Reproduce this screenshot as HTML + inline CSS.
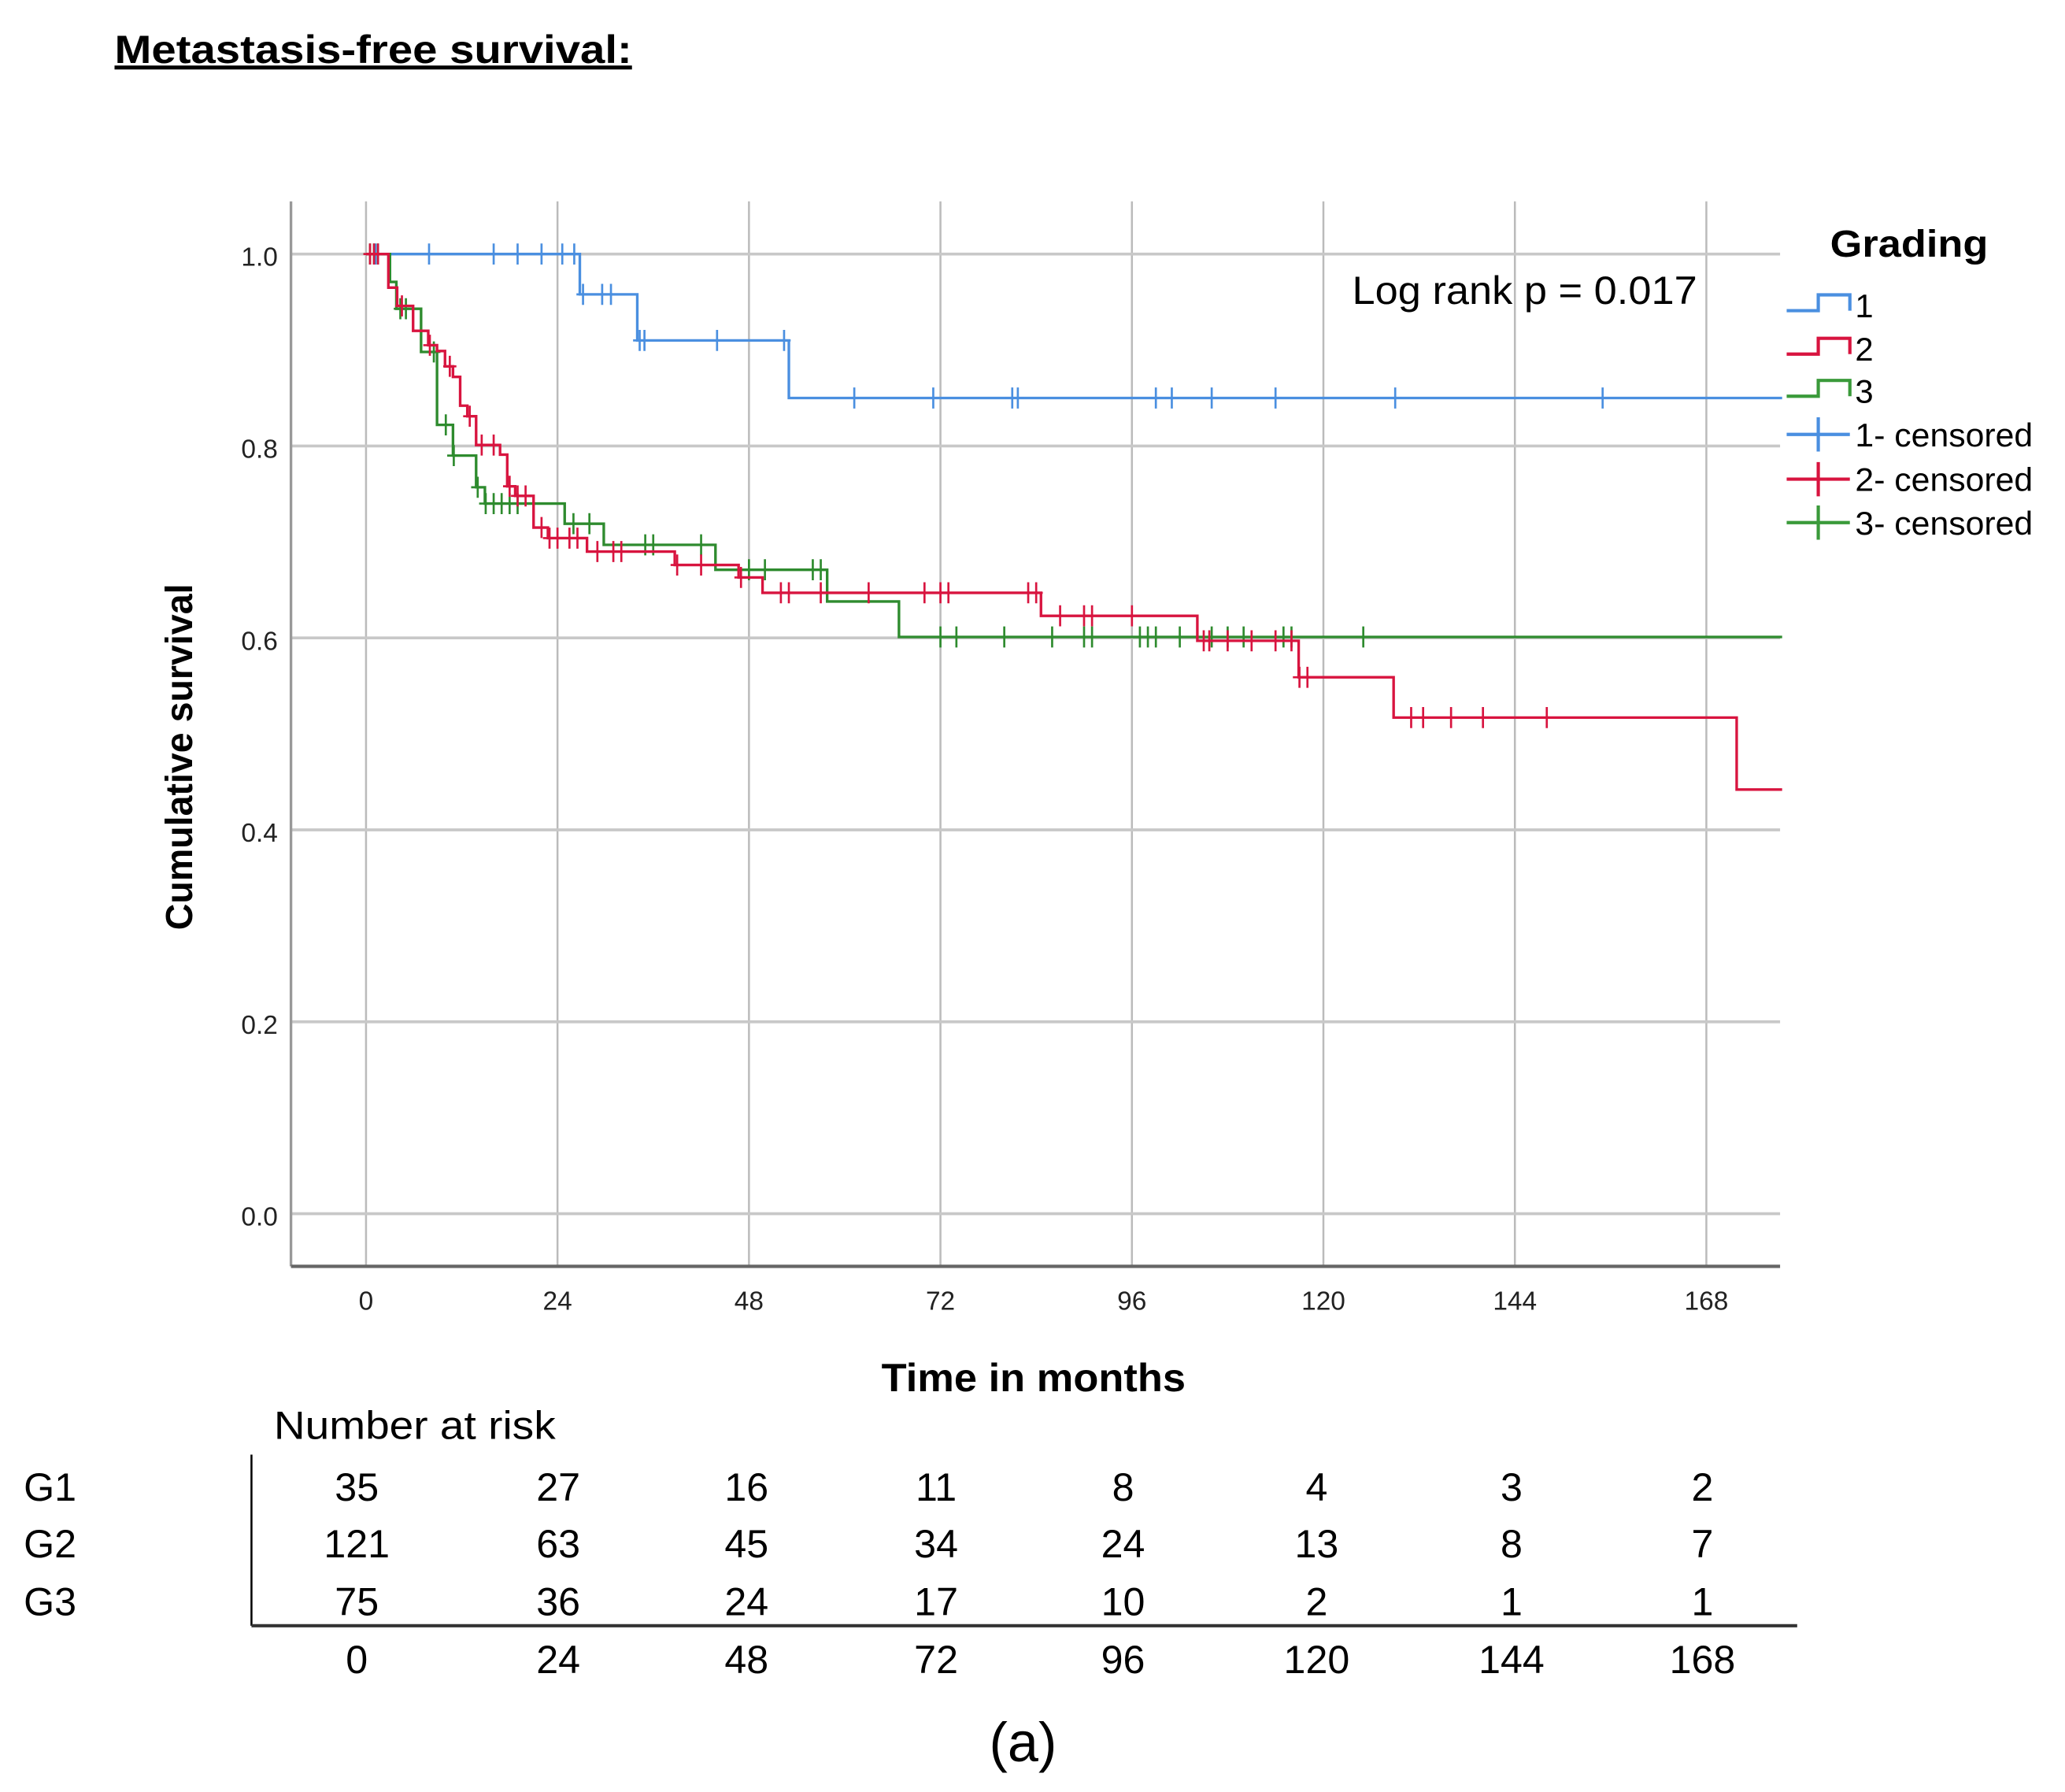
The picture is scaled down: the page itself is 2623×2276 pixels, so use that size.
<!DOCTYPE html>
<html><head><meta charset="utf-8"><style>
html,body{margin:0;padding:0;background:#fff}
svg{display:block}
text{font-family:"Liberation Sans",sans-serif}
</style></head><body>
<svg id="chart" width="2623" height="2276" viewBox="0 0 1568.4 1361.3" preserveAspectRatio="none" xmlns="http://www.w3.org/2000/svg">
<text x="87" y="48" font-size="30" font-weight="bold" text-decoration="underline" textLength="393" lengthAdjust="spacingAndGlyphs">Metastasis-free survival:</text>
<g id="grid"></g>
<g id="curves"></g>
<line x1="221" y1="153" x2="221" y2="962" stroke="#999" stroke-width="2"/>
<line x1="221" y1="962" x2="1352" y2="962" stroke="#666" stroke-width="2.5"/>
<text transform="translate(146,575) rotate(-90)" text-anchor="middle" font-size="29" font-weight="bold" textLength="263" lengthAdjust="spacingAndGlyphs">Cumulative survival</text>
<text x="785" y="1057" text-anchor="middle" font-size="30" font-weight="bold" textLength="231" lengthAdjust="spacingAndGlyphs">Time in months</text>
<text x="1027" y="231" font-size="30" textLength="262" lengthAdjust="spacingAndGlyphs">Log rank p = 0.017</text>
<g>
<text x="1390" y="195" font-size="29" font-weight="bold" textLength="120" lengthAdjust="spacingAndGlyphs">Grading</text>
<g id="legend"></g>
</g>
<g id="risk">
<text x="208" y="1093" font-size="30" textLength="214" lengthAdjust="spacingAndGlyphs">Number at risk</text>
<line x1="191" y1="1105" x2="191" y2="1235" stroke="#000" stroke-width="1.5"/>
<line x1="191" y1="1235" x2="1365" y2="1235" stroke="#333" stroke-width="2.5"/>
</g>
<text x="777" y="1338" text-anchor="middle" font-size="42" font-family="Liberation Serif, serif">(a)</text>
</svg>
<script>
const xTicks=[0,24,48,72,96,120,144,168];
const yTicks=[0,0.2,0.4,0.6,0.8,1.0];
const g1Times=[26.8,34.0,53.0];
const g1Surv=[0.958,0.910,0.850];
const g1Cens=[1.2,7.9,16,19,22,24.6,26.1,27.2,29.6,30.7,34.3,34.9,44,52.4,61.2,71.1,81,81.7,99,101,106,114,129,155];
const g2Times=[2.8,3.9,5.9,7.8,8.9,9.9,10.9,11.8,12.7,13.8,16.8,17.7,18.7,21.0,22.8,27.7,38.7,46.7,49.7,84.6,104.2,116.9,128.8,171.8];
const g2Surv=[0.965,0.946,0.92,0.905,0.899,0.883,0.872,0.842,0.831,0.801,0.791,0.758,0.748,0.715,0.704,0.69,0.676,0.663,0.647,0.623,0.597,0.559,0.517,0.442];
const g2Cens=[0.5,1,1.5,4.5,8,10.5,13,14.5,16,18,19,20,22,23,24,25.5,26.5,29,31,32,39,42,47,52,53,57,63,70,72,73,83,84,87,90,91,96,105,105.7,108,111,114,116,117,118,131,132.5,136,140,148];
const g3Times=[3.0,3.8,6.9,8.9,10.9,13.8,14.9,24.9,29.8,43.8,57.8,66.8];
const g3Surv=[0.971,0.943,0.898,0.822,0.79,0.757,0.74,0.719,0.697,0.671,0.638,0.601];
const g3Cens=[0.5,1,1.5,4.3,5,8.5,10,11,14,15,16,17,18,19,26,28,35,36,42,48,50,56,57,72,74,80,86,90,91,97,98,99,102,106,108,110,115,116,125];
const riskGroups=["G1","G2","G3"];
const riskG1=[35,27,16,11,8,4,3,2];
const riskG2=[121,63,45,34,24,13,8,7];
const riskG3=[75,36,24,17,10,2,1,1];
const riskCols=[271,424,567,711,853,1000,1148,1293];
const tMax=177.5;
const NS="http://www.w3.org/2000/svg";
const X=t=>278+t*(1296-278)/168;
const Y=s=>922-s*(922-193);
function mk(tag,attrs,parent){const e=document.createElementNS(NS,tag);for(const k in attrs)e.setAttribute(k,attrs[k]);parent.appendChild(e);return e;}
const grid=document.getElementById('grid');
xTicks.forEach(t=>{
  const l=mk('line',{x1:X(t),y1:153,x2:X(t),y2:962,stroke:'#bbb','stroke-width':1.5},grid);
  
  
  const tx=mk('text',{x:X(t),y:995,'text-anchor':'middle','font-size':20,fill:'#222'},grid);
  tx.textContent=t;
  
  
});
yTicks.forEach(v=>{
  const l=mk('line',{x1:221,y1:Y(v),x2:1352,y2:Y(v),stroke:'#c8c8c8','stroke-width':2.2},grid);
  
  
  const tx=mk('text',{x:211,y:Y(v)+9,'text-anchor':'end','font-size':20,fill:'#222'},grid);
  tx.textContent=v.toFixed(1);
  
  
});
function survAt(times,surv,t){let s=1;for(let i=0;i<times.length;i++){if(times[i]<=t)s=surv[i];}return s;}
const curves=document.getElementById('curves');
function drawSeries(name,times,surv,cens,color){
  let d='M'+X(0)+','+Y(1);
  for(let i=0;i<times.length;i++){d+=' H'+X(times[i])+' V'+Y(surv[i]);}
  d+=' H'+X(tMax);
  const p=mk('path',{d:d,fill:'none',stroke:color,'stroke-width':2},curves);
  
  
  cens.forEach(t=>{
    const y=Y(survAt(times,surv,t));const x=X(t);
    const c=mk('path',{d:'M'+x+','+(y-8)+' V'+(y+8)+' M'+(x-5)+','+y+' H'+(x+5),stroke:color,'stroke-width':1.6,fill:'none'},curves);
    
    
  });
}
drawSeries('grade-1',g1Times,g1Surv,g1Cens,'#4a8fe0');
drawSeries('grade-3',g3Times,g3Surv,g3Cens,'#2e8b2e');
drawSeries('grade-2',g2Times,g2Surv,g2Cens,'#d8143f');
const leg=document.getElementById('legend');
const legItems=[['1','#4a8fe0',0],['2','#d8143f',0],['3','#3a9a3a',0],['1- censored','#4a8fe0',1],['2- censored','#d8143f',1],['3- censored','#3a9a3a',1]];
const legY=[232,265,297,330,364,397];
legItems.forEach((it,i)=>{
  const y=legY[i];
  const d=it[2]?'M1357,'+y+' H1405 M1381,'+(y-13)+' V'+(y+13):'M1357,'+(y+4)+' H1381 V'+(y-8)+' H1405 V'+(y+4);
  const p=mk('path',{d:d,fill:'none',stroke:it[1],'stroke-width':2.5},leg);
  
  
  const attrs={x:1409,y:y+9,'font-size':25};
  if(it[2]){attrs.textLength=135;attrs.lengthAdjust='spacingAndGlyphs';}
  const t=mk('text',attrs,leg);
  t.textContent=it[0];
  
  
});
const risk=document.getElementById('risk');
const rows=[riskG1,riskG2,riskG3];const rowY=[1137,1180,1224];
riskGroups.forEach((g,i)=>{
  const t=mk('text',{x:18,y:rowY[i]+3,'font-size':30},risk);
  t.textContent=g;
  
  
  rows[i].forEach((v,j)=>{
    const n=mk('text',{x:riskCols[j],y:rowY[i]+3,'text-anchor':'middle','font-size':30},risk);
    n.textContent=v;
    
    
  });
});
xTicks.forEach((t,j)=>{
  const n=mk('text',{x:riskCols[j],y:1271,'text-anchor':'middle','font-size':30},risk);
  n.textContent=t;
  
  
});
</script>
</body></html>
